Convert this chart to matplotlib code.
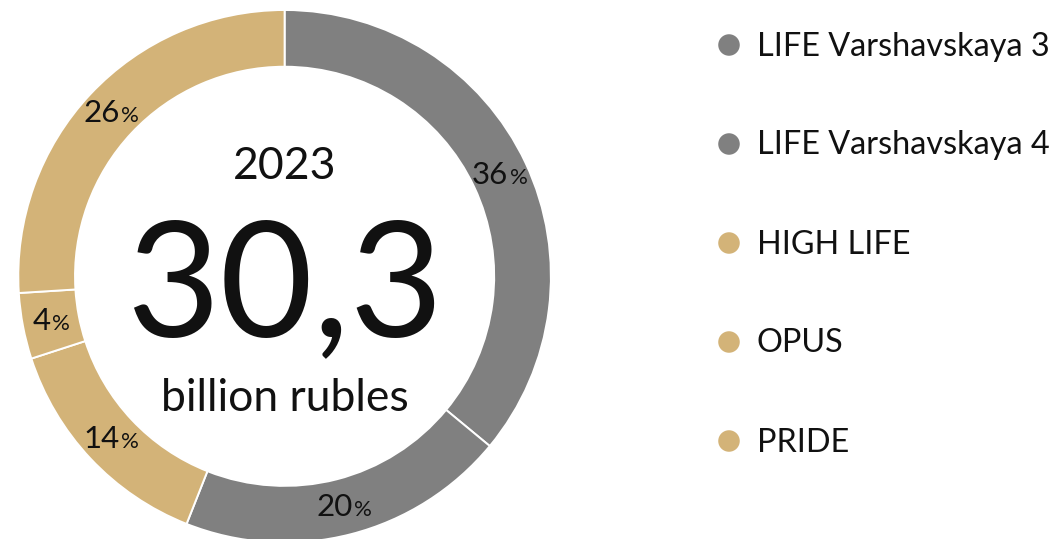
import matplotlib
matplotlib.use("Agg")
import matplotlib.pyplot as plt
from matplotlib.offsetbox import TextArea, HPacker, AnnotationBbox
import numpy as np

# ---- data ----
projects = ["LIFE Varshavskaya 3", "LIFE Varshavskaya 4", "HIGH LIFE", "OPUS", "PRIDE"]
shares = [36, 20, 14, 4, 26]
year_label = "2023"
total_label = "30,3"
unit_label = "billion rubles"

GRAY = "#808080"
GOLD = "#D3B378"
colors = [GRAY, GRAY, GOLD, GOLD, GOLD]

plt.rcParams['font.family'] = ['Lato', 'DejaVu Sans']

W, H = 1058, 539
fig = plt.figure(figsize=(W / 100, H / 100), dpi=100)
fig.patch.set_facecolor("white")

# donut axes: centre (284.6, 276.3 from top), radius 266.3 px
cx, cy_top, R = 284.6, 276.3, 266.3
cy = H - cy_top
ax = fig.add_axes([(cx - R) / W, (cy - R) / H, 2 * R / W, 2 * R / H])

ring = 0.213
wedges, _ = ax.pie(shares, colors=colors, startangle=90, counterclock=False,
                   radius=1.0,
                   wedgeprops=dict(width=ring, edgecolor="white", linewidth=1.4))
ax.set_xlim(-1, 1)
ax.set_ylim(-1, 1)
ax.set_aspect("equal")
ax.axis("off")

label_r = 1.0 - ring / 2
for w, v in zip(wedges, shares):
    ang = np.deg2rad((w.theta1 + w.theta2) / 2)
    x, y = label_r * np.cos(ang), label_r * np.sin(ang)
    num = TextArea(f"{v}", textprops=dict(fontsize=22.5, color="#111111"))
    pct = TextArea("%", textprops=dict(fontsize=16, color="#111111"))
    box = HPacker(children=[num, pct], align="baseline", pad=0, sep=1)
    ab = AnnotationBbox(box, (x, y), frameon=False, box_alignment=(0.5, 0.5),
                        pad=0, annotation_clip=False)
    ax.add_artist(ab)

ax.text(0, 0.367, year_label, ha="center", va="baseline", fontsize=32, color="#111111")
ax.text(0, -0.223, total_label, ha="center", va="baseline", fontsize=116, color="#111111")
ax.text(0, -0.505, unit_label, ha="center", va="baseline", fontsize=32, color="#111111")

# ---- legend ----
row_px = 99.0
first_row_top = 45.0
leg_left = 729.0
leg_w = 320.0
n = len(projects)
leg_h = n * row_px
leg_top_px = first_row_top - row_px / 2
axl = fig.add_axes([leg_left / W, (H - leg_top_px - leg_h) / H, leg_w / W, leg_h / H])
axl.set_xlim(0, leg_w)
axl.set_ylim(n - 0.5, -0.5)
axl.axis("off")
rows = np.arange(n)
axl.scatter(np.zeros(n), rows, s=(15.5) ** 2, c=colors, edgecolors="none", clip_on=False)
for i, name in enumerate(projects):
    axl.text(28, i + 10.5 / row_px, name, ha="left", va="baseline", fontsize=23.3,
             color="#111111", clip_on=False)

fig.savefig("out.png", dpi=100, facecolor="white")
